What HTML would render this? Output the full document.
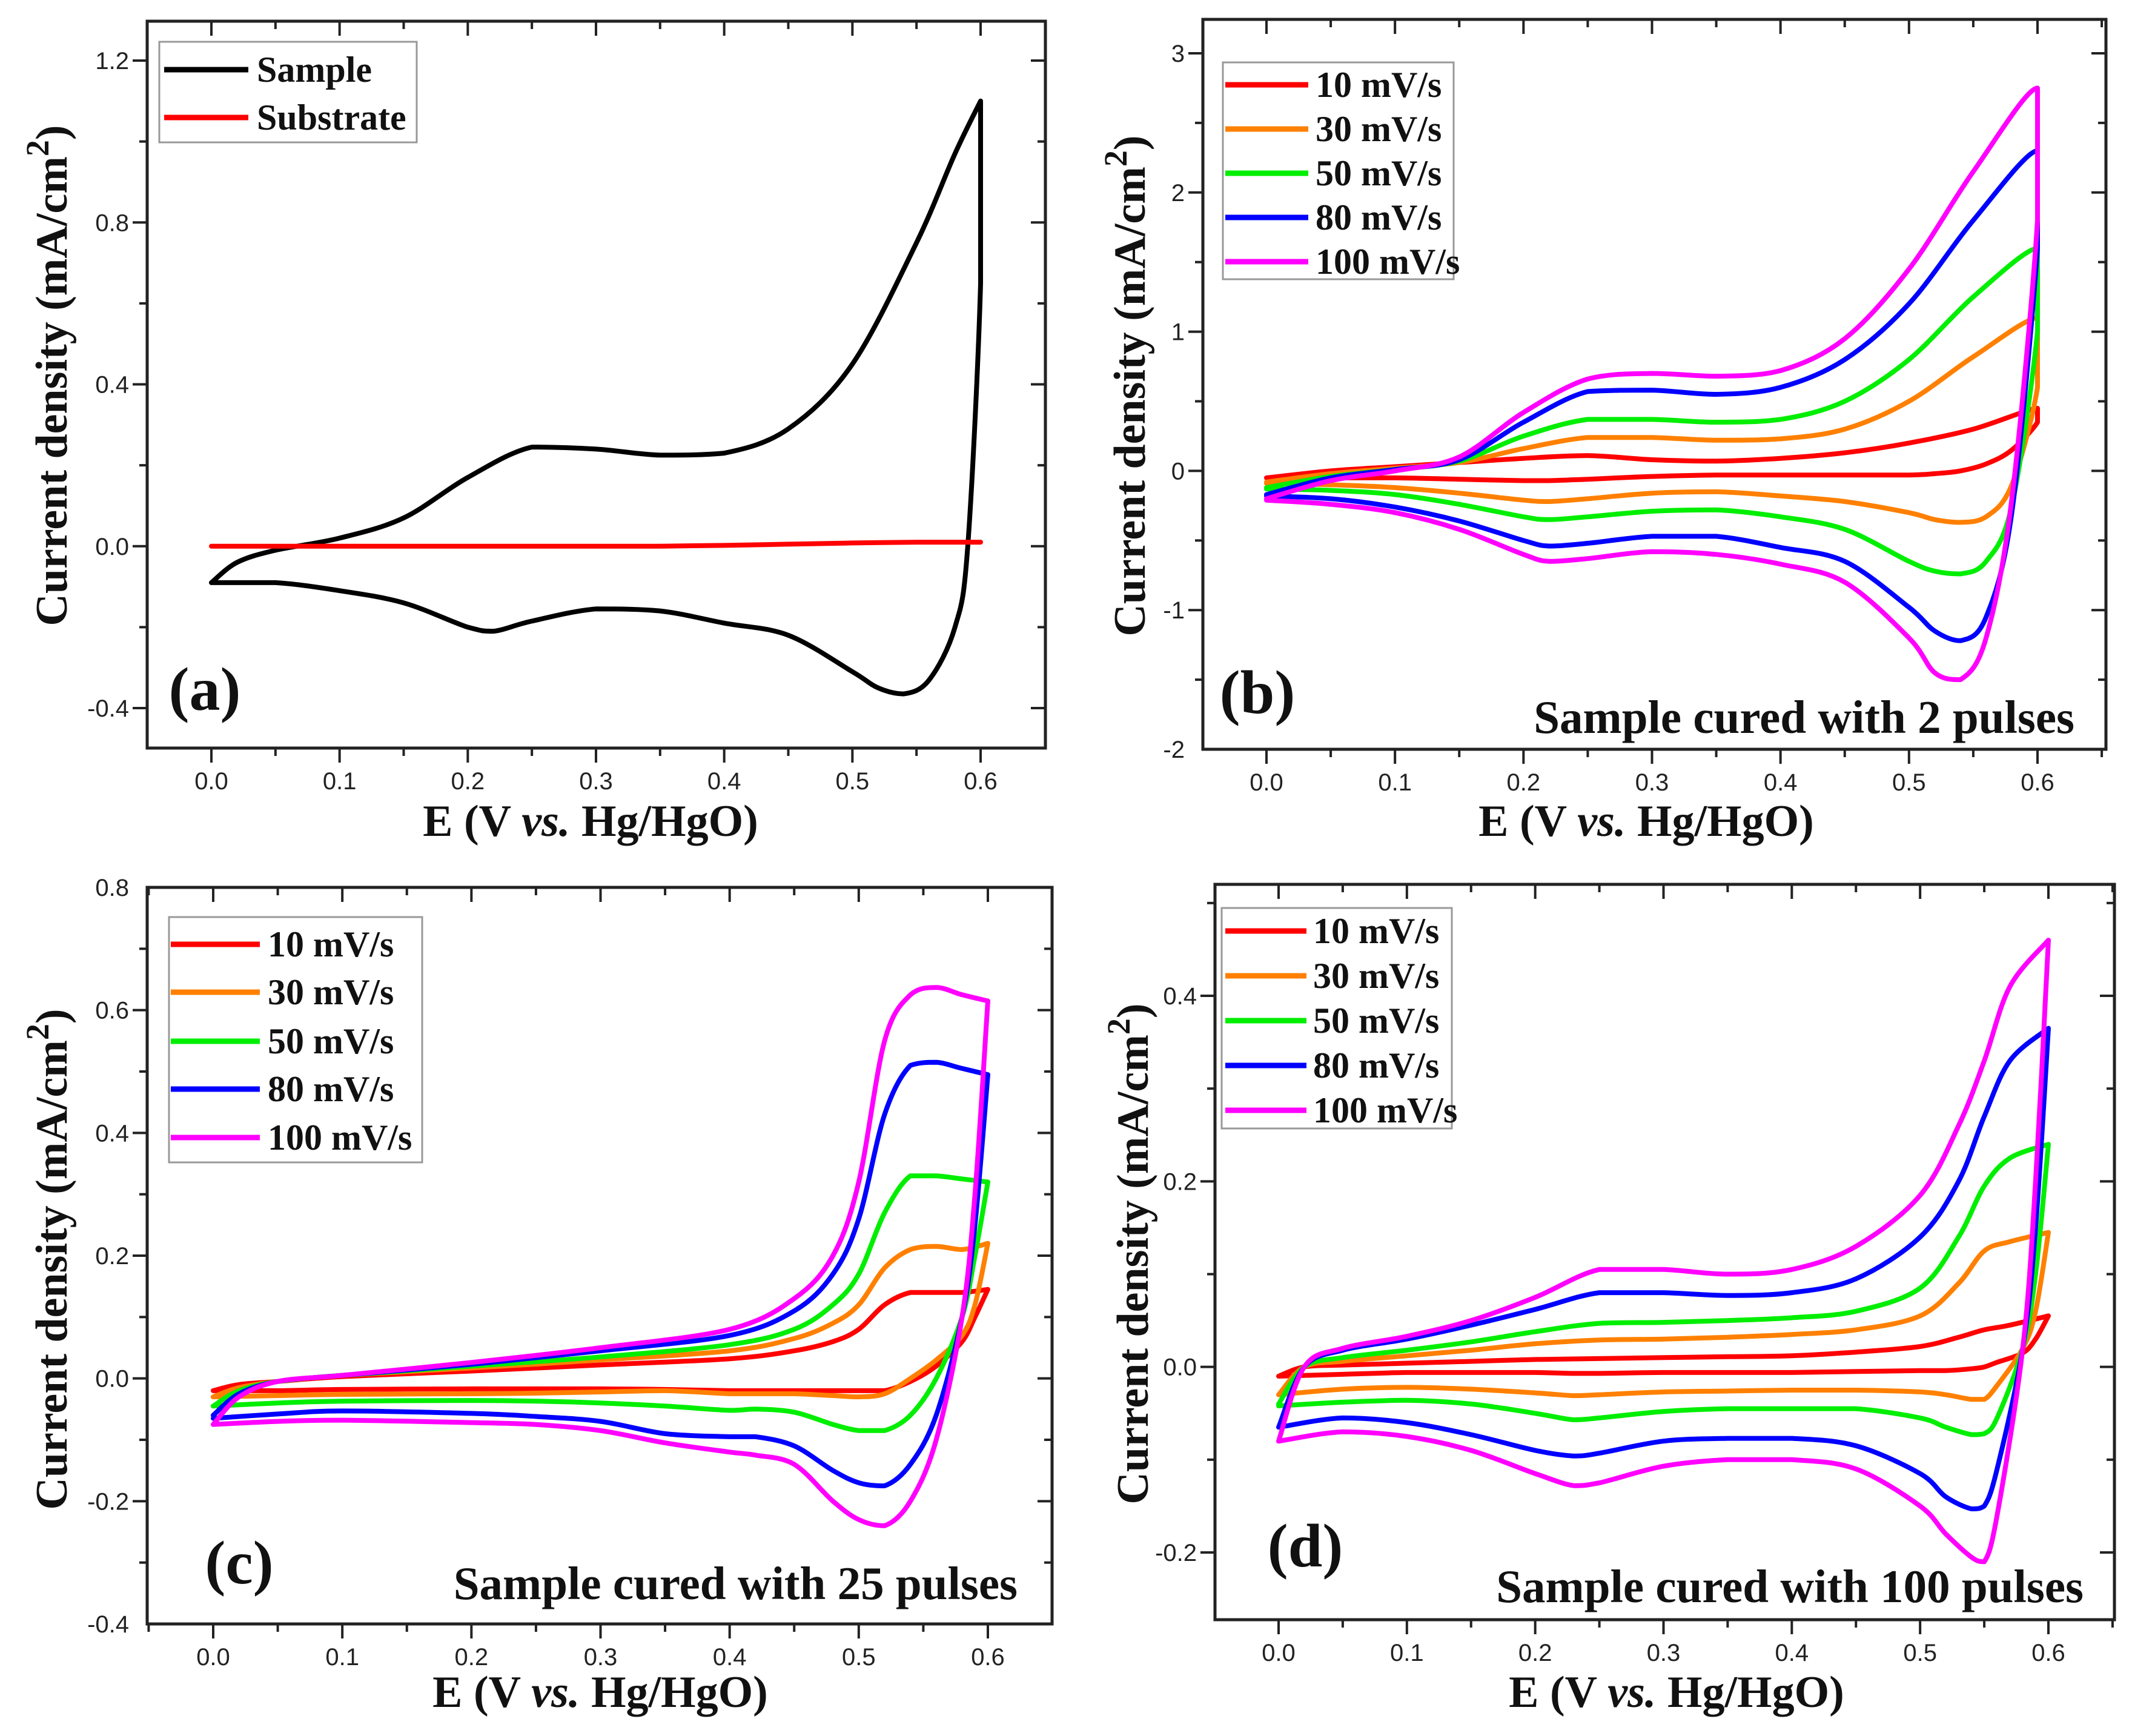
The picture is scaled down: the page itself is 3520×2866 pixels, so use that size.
<!DOCTYPE html>
<html><head><meta charset="utf-8"><style>
html,body{margin:0;padding:0;background:#fff}
svg{display:block}
.tk{font-family:"Liberation Sans",sans-serif;font-size:40px;fill:#222}
.ti{font-family:"Liberation Serif",serif;font-weight:bold;font-size:74px;fill:#111}
.lg{font-family:"Liberation Serif",serif;font-weight:bold;font-size:60px;fill:#111}
.pl{font-family:"Liberation Serif",serif;font-weight:bold;font-size:102px;fill:#111}
.an{font-family:"Liberation Serif",serif;font-weight:bold;font-size:77px;fill:#111}
</style></head><body>
<svg id="fig" xmlns="http://www.w3.org/2000/svg" width="3520" height="2866" viewBox="0 0 3520 2866"></svg>
<script>
// ---------- DATA ----------
const seriesNames = ["10 mV/s","30 mV/s","50 mV/s","80 mV/s","100 mV/s"];
const seriesColors = ["#ff0000","#ff8000","#00ee00","#0000ff","#ff00ff"];

// Panel a
const aFwdX = [0,0.02,0.05,0.1,0.15,0.2,0.25,0.3,0.35,0.4,0.45,0.5,0.55,0.58,0.6];
const aRevX = [0.6,0.6,0.59,0.58,0.56,0.54,0.52,0.5,0.45,0.4,0.35,0.3,0.25,0.22,0.2,0.15,0.1,0.05,0.0];
const aSampleFwd = [-0.09,-0.04,-0.01,0.02,0.07,0.17,0.245,0.24,0.225,0.23,0.29,0.45,0.75,0.97,1.1];
const aSampleRev = [1.1,0.65,0.0,-0.2,-0.33,-0.365,-0.35,-0.31,-0.22,-0.19,-0.16,-0.155,-0.185,-0.21,-0.2,-0.14,-0.11,-0.09,-0.09];
const aSubstrate = [0,0,0,0,0,0,0,0,0,0.002,0.005,0.008,0.01,0.01,0.01];
const aYTicks = ["-0.4","0.0","0.4","0.8","1.2"];

// Panel b
const bFwdX = [0,0.05,0.1,0.15,0.2,0.25,0.3,0.35,0.4,0.45,0.5,0.55,0.6];
const bRevX = [0.6,0.58,0.56,0.54,0.52,0.5,0.45,0.4,0.35,0.3,0.25,0.22,0.2,0.15,0.1,0.05,0];
const b10F = [-0.05,0.0,0.03,0.06,0.09,0.11,0.08,0.07,0.09,0.13,0.2,0.3,0.45];
const b10R = [0.35,0.15,0.05,0.0,-0.02,-0.03,-0.03,-0.03,-0.03,-0.04,-0.06,-0.07,-0.07,-0.06,-0.05,-0.05,-0.05];
const b30F = [-0.08,-0.02,0.02,0.06,0.16,0.24,0.24,0.22,0.23,0.3,0.5,0.82,1.1];
const b30R = [0.6,-0.1,-0.33,-0.37,-0.35,-0.3,-0.22,-0.18,-0.15,-0.16,-0.2,-0.22,-0.21,-0.16,-0.12,-0.1,-0.09];
const b50F = [-0.12,-0.04,0.01,0.07,0.25,0.37,0.37,0.35,0.37,0.5,0.8,1.25,1.6];
const b50R = [1.0,-0.25,-0.65,-0.74,-0.72,-0.65,-0.42,-0.33,-0.28,-0.29,-0.33,-0.35,-0.33,-0.24,-0.17,-0.14,-0.13];
const b80F = [-0.17,-0.05,0.01,0.08,0.35,0.57,0.58,0.55,0.6,0.8,1.2,1.8,2.3];
const b80R = [1.6,-0.3,-1.05,-1.22,-1.15,-0.98,-0.65,-0.55,-0.47,-0.47,-0.52,-0.54,-0.5,-0.36,-0.26,-0.2,-0.18];
const b100F = [-0.2,-0.07,0.0,0.1,0.42,0.66,0.7,0.68,0.72,0.95,1.45,2.15,2.75];
const b100R = [1.8,-0.2,-1.2,-1.5,-1.45,-1.2,-0.8,-0.67,-0.6,-0.58,-0.63,-0.65,-0.6,-0.42,-0.3,-0.24,-0.21];
const bYTicks = ["-2","-1","0","1","2","3"];

// Panel c
const cFwdX = [0,0.02,0.05,0.1,0.2,0.3,0.4,0.45,0.48,0.5,0.52,0.54,0.56,0.58,0.6];
const cRevX = [0.6,0.59,0.58,0.56,0.54,0.52,0.5,0.48,0.45,0.42,0.4,0.35,0.3,0.25,0.2,0.1,0.05,0];
const c10F = [-0.02,-0.01,-0.005,0.003,0.012,0.022,0.032,0.045,0.06,0.08,0.12,0.14,0.14,0.14,0.145];
const c10R = [0.145,0.1,0.06,0.02,-0.005,-0.02,-0.02,-0.02,-0.02,-0.02,-0.02,-0.018,-0.017,-0.017,-0.017,-0.018,-0.02,-0.02];
const c30F = [-0.03,-0.015,-0.005,0.005,0.017,0.03,0.045,0.065,0.09,0.12,0.18,0.21,0.215,0.21,0.22];
const c30R = [0.22,0.12,0.07,0.03,0.0,-0.025,-0.03,-0.028,-0.025,-0.025,-0.025,-0.02,-0.022,-0.024,-0.025,-0.026,-0.028,-0.03];
const c50F = [-0.045,-0.02,-0.005,0.005,0.02,0.035,0.055,0.08,0.12,0.17,0.27,0.33,0.33,0.325,0.32];
const c50R = [0.32,0.2,0.1,0.0,-0.06,-0.085,-0.085,-0.075,-0.055,-0.05,-0.052,-0.045,-0.04,-0.037,-0.036,-0.037,-0.04,-0.045];
const c80F = [-0.06,-0.025,-0.005,0.005,0.023,0.045,0.07,0.11,0.17,0.26,0.43,0.51,0.515,0.505,0.495];
const c80R = [0.495,0.25,0.1,-0.06,-0.14,-0.175,-0.17,-0.15,-0.11,-0.095,-0.095,-0.09,-0.07,-0.062,-0.057,-0.053,-0.058,-0.065];
const c100F = [-0.075,-0.03,-0.005,0.005,0.026,0.05,0.08,0.13,0.2,0.32,0.55,0.625,0.637,0.625,0.615];
const c100R = [0.615,0.3,0.1,-0.1,-0.2,-0.24,-0.23,-0.2,-0.14,-0.125,-0.12,-0.105,-0.085,-0.075,-0.072,-0.068,-0.07,-0.075];
const cYTicks = ["-0.4","-0.2","0.0","0.2","0.4","0.6","0.8"];

// Panel d
const dFwdX = [0,0.02,0.05,0.1,0.15,0.2,0.25,0.3,0.35,0.4,0.45,0.5,0.53,0.55,0.57,0.6];
const dRevX = [0.6,0.59,0.58,0.56,0.55,0.54,0.52,0.5,0.45,0.4,0.35,0.3,0.25,0.23,0.2,0.15,0.1,0.05,0];
const d10F = [-0.01,0.0,0.002,0.004,0.006,0.008,0.009,0.01,0.011,0.012,0.016,0.022,0.032,0.04,0.045,0.055];
const d10R = [0.055,0.03,0.015,0.005,0.0,-0.002,-0.004,-0.004,-0.005,-0.006,-0.006,-0.006,-0.007,-0.007,-0.006,-0.006,-0.006,-0.008,-0.01];
const d30F = [-0.03,0.0,0.006,0.012,0.018,0.025,0.029,0.03,0.032,0.035,0.04,0.055,0.09,0.125,0.135,0.145];
const d30R = [0.145,0.06,0.02,-0.02,-0.035,-0.035,-0.03,-0.027,-0.025,-0.025,-0.026,-0.027,-0.03,-0.031,-0.028,-0.024,-0.022,-0.024,-0.03];
const d50F = [-0.04,0.0,0.01,0.018,0.027,0.038,0.047,0.048,0.05,0.053,0.06,0.085,0.14,0.195,0.225,0.24];
const d50R = [0.24,0.1,0.02,-0.055,-0.072,-0.073,-0.065,-0.055,-0.045,-0.045,-0.045,-0.048,-0.055,-0.057,-0.05,-0.04,-0.036,-0.038,-0.042];
const d80F = [-0.065,0.0,0.018,0.03,0.045,0.062,0.08,0.08,0.077,0.08,0.095,0.14,0.2,0.27,0.33,0.365];
const d80R = [0.365,0.15,0.02,-0.11,-0.15,-0.153,-0.14,-0.115,-0.085,-0.077,-0.077,-0.08,-0.093,-0.096,-0.09,-0.073,-0.06,-0.055,-0.065];
const d100F = [-0.08,0.0,0.02,0.033,0.05,0.075,0.105,0.105,0.1,0.105,0.13,0.185,0.26,0.33,0.41,0.46];
const d100R = [0.46,0.2,0.02,-0.16,-0.21,-0.205,-0.18,-0.15,-0.11,-0.1,-0.1,-0.107,-0.125,-0.128,-0.115,-0.09,-0.075,-0.07,-0.08];
const dYTicks = ["-0.2","0.0","0.2","0.4"];

const xTicks = ["0.0","0.1","0.2","0.3","0.4","0.5","0.6"];

// ---------- DRAWING ----------
const NS = "http://www.w3.org/2000/svg";
const fig = document.getElementById("fig");
function mk(tag, parent, attrs){ const e=document.createElementNS(NS,tag); for(const k in attrs) e.setAttribute(k,attrs[k]); parent.appendChild(e); return e; }
function clamp(v,a,b){ const lo=Math.min(a,b), hi=Math.max(a,b); return Math.max(lo,Math.min(hi,v)); }

function smoothPath(pts){
  let d = "M"+pts[0][0].toFixed(1)+","+pts[0][1].toFixed(1);
  for(let i=0;i<pts.length-1;i++){
    const p0=pts[Math.max(0,i-1)], p1=pts[i], p2=pts[i+1], p3=pts[Math.min(pts.length-1,i+2)];
    let c1=[p1[0]+(p2[0]-p0[0])/6, p1[1]+(p2[1]-p0[1])/6];
    let c2=[p2[0]-(p3[0]-p1[0])/6, p2[1]-(p3[1]-p1[1])/6];
    c1=[clamp(c1[0],p1[0],p2[0]), clamp(c1[1],p1[1],p2[1])];
    c2=[clamp(c2[0],p1[0],p2[0]), clamp(c2[1],p1[1],p2[1])];
    d+=" C"+c1[0].toFixed(1)+","+c1[1].toFixed(1)+" "+c2[0].toFixed(1)+","+c2[1].toFixed(1)+" "+p2[0].toFixed(1)+","+p2[1].toFixed(1);
  }
  return d;
}

function panel(cfg){
  const g = mk("g", fig, {});
  
  
  const sx = v => cfg.x0 + (cfg.x6 - cfg.x0) * v / 0.6;
  const sy = v => cfg.pyA + (cfg.pyB - cfg.pyA) * (v - cfg.vA) / (cfg.vB - cfg.vA);
  const L=cfg.L,R=cfg.R,T=cfg.T,B=cfg.B;
  const cid = "clip-"+cfg.name;
  const cp = mk("clipPath", g, {id:cid}); mk("rect", cp, {x:L,y:T,width:R-L,height:B-T});
  const plot = mk("g", g, {"clip-path":"url(#"+cid+")"});
  
  
  cfg.series.forEach(s=>{
    const pts = s.fx.map((x,i)=>[sx(x), sy(s.fy[i])]);
    if(s.rx){ s.rx.forEach((x,i)=>pts.push([sx(x), sy(s.ry[i])])); }
    const p = mk("path", plot, {d:smoothPath(pts), fill:"none", stroke:s.color, "stroke-width":8, "stroke-linejoin":"round","stroke-linecap":"round"});
    
    
  });
  const fr = mk("rect", g, {x:L,y:T,width:R-L,height:B-T,fill:"none",stroke:"#222","stroke-width":5});
  
  
  for(let k=-1;k<=13;k++){
    const v=k*0.05, x=sx(v); if(x<L+2||x>R-2) continue;
    const major = k%2===0, len = major?24:13;
    mk("line", g, {x1:x,y1:B,x2:x,y2:B+len,stroke:"#222","stroke-width":4});
    mk("line", g, {x1:x,y1:T,x2:x,y2:T+len,stroke:"#222","stroke-width":4});
  }
  xTicks.forEach(t=>{
    const tx = mk("text", g, {x:sx(parseFloat(t)), y:B+68, "text-anchor":"middle", class:"tk"});
    tx.textContent=t;
    
    
  });
  const step = cfg.yMinor;
  const start = Math.ceil((cfg.yMin)/step - 1e-6);
  for(let k=start; k*step<=cfg.yMax+1e-9; k++){
    const v=k*step, y=sy(v); if(y<T+2||y>B-2) continue;
    const major = Math.abs(v/cfg.yMajor - Math.round(v/cfg.yMajor))<1e-6, len = major?24:13;
    mk("line", g, {x1:L-len,y1:y,x2:L,y2:y,stroke:"#222","stroke-width":4});
    mk("line", g, {x1:R-len,y1:y,x2:R,y2:y,stroke:"#222","stroke-width":4});
  }
  cfg.yTicks.forEach(t=>{
    const tx = mk("text", g, {x:L-30, y:sy(parseFloat(t))+14, "text-anchor":"end", class:"tk"});
    tx.textContent=t;
    
    
  });
  const xt = mk("text", g, {x:cfg.xtx, y:cfg.xty, "text-anchor":"middle", class:"ti"});
  xt.innerHTML = 'E (V <tspan font-style="italic">vs.</tspan> Hg/HgO)';
  
  
  const yt = mk("text", g, {x:0, y:0, "text-anchor":"middle", class:"ti", "font-size":86, transform:"translate("+cfg.ytx+","+cfg.yty+") rotate(-90)"});
  yt.innerHTML = 'Current density (mA/cm<tspan baseline-shift="super" font-size="54">2</tspan>)';
  
  
  const pl = mk("text", g, {x:cfg.plx, y:cfg.ply, "text-anchor":"middle", class:"pl"});
  pl.textContent = cfg.label;
  
  
  if(cfg.note){
    const an = mk("text", g, {x:cfg.notex, y:cfg.notey, "text-anchor":"end", class:"an"});
    an.textContent = cfg.note;
    
    
  }
  const lg = cfg.legend;
  const lgG = mk("g", g, {});
  
  
  mk("rect", lgG, {x:lg.x1,y:lg.y1,width:lg.x2-lg.x1,height:lg.y2-lg.y1,fill:"#fff",stroke:"#999","stroke-width":3});
  lg.items.forEach((it,i)=>{
    const e = mk("g", lgG, {});
    
    
    const y = lg.rows[i];
    mk("line", e, {x1:lg.lx1,y1:y,x2:lg.lx2,y2:y,stroke:it.color,"stroke-width":9});
    const t = mk("text", e, {x:lg.tx, y:y+20, class:"lg"}); t.textContent = it.label;
  });
}

function mkSeries(names, colors, fx, rx, F, Rv){
  return F.map((f,i)=>({label:names[i], color:colors[i], fx:fx, fy:f, rx:rx, ry:Rv[i]}));
}

panel({name:"panel-a", L:243,R:1726,T:35,B:1235, x0:349,x6:1619, vA:1.2,pyA:100,vB:-0.4,pyB:1169,
  yMin:-0.5,yMax:1.3,yMinor:0.2,yMajor:0.4,yTicks:aYTicks,
  xtx:975,xty:1380, ytx:110,yty:620, label:"(a)",plx:338,ply:1172,
  series:[{label:"Sample",color:"#000",fx:aFwdX,fy:aSampleFwd,rx:aRevX,ry:aSampleRev},
          {label:"Substrate",color:"#ff0000",fx:aFwdX,fy:aSubstrate}],
  legend:{x1:263,y1:69,x2:688,y2:235,lx1:271,lx2:410,tx:424,rows:[115,194],
    items:[{label:"Sample",color:"#000"},{label:"Substrate",color:"#ff0000"}]}
});

panel({name:"panel-b", L:1986,R:3477,T:32,B:1237, x0:2091,x6:3364, vA:3,pyA:88,vB:-2,pyB:1237,
  yMin:-2,yMax:3.25,yMinor:0.5,yMajor:1,yTicks:bYTicks,
  xtx:2718,xty:1380, ytx:1890,yty:637, label:"(b)",plx:2076,ply:1177,
  note:"Sample cured with 2 pulses",notex:3425,notey:1210,
  series:mkSeries(seriesNames,seriesColors,bFwdX,bRevX,[b10F,b30F,b50F,b80F,b100F],[b10R,b30R,b50R,b80R,b100R]),
  legend:{x1:2019,y1:103,x2:2400,y2:461,lx1:2023,lx2:2160,tx:2172,rows:[140,213,286,359,432],
    items:seriesNames.map((n,i)=>({label:n,color:seriesColors[i]}))}
});

panel({name:"panel-c", L:243,R:1737,T:1465,B:2681, x0:352,x6:1631, vA:0.8,pyA:1465,vB:-0.4,pyB:2681,
  yMin:-0.4,yMax:0.8,yMinor:0.1,yMajor:0.2,yTicks:cYTicks,
  xtx:991,xty:2818, ytx:110,yty:2079, label:"(c)",plx:395,ply:2614,
  note:"Sample cured with 25 pulses",notex:1680,notey:2640,
  series:mkSeries(seriesNames,seriesColors,cFwdX,cRevX,[c10F,c30F,c50F,c80F,c100F],[c10R,c30R,c50R,c80R,c100R]),
  legend:{x1:279,y1:1514,x2:697,y2:1919,lx1:282,lx2:429,tx:442,rows:[1559,1638,1719,1798,1878],
    items:seriesNames.map((n,i)=>({label:n,color:seriesColors[i]}))}
});

panel({name:"panel-d", L:2006,R:3491,T:1460,B:2674, x0:2111,x6:3382, vA:0.4,pyA:1644,vB:-0.2,pyB:2563,
  yMin:-0.28,yMax:0.52,yMinor:0.1,yMajor:0.2,yTicks:dYTicks,
  xtx:2768,xty:2818, ytx:1895,yty:2070, label:"(d)",plx:2155,ply:2586,
  note:"Sample cured with 100 pulses",notex:3440,notey:2645,
  series:mkSeries(seriesNames,seriesColors,dFwdX,dRevX,[d10F,d30F,d50F,d80F,d100F],[d10R,d30R,d50R,d80R,d100R]),
  legend:{x1:2017,y1:1499,x2:2397,y2:1863,lx1:2023,lx2:2157,tx:2168,rows:[1537,1611,1685,1759,1833],
    items:seriesNames.map((n,i)=>({label:n,color:seriesColors[i]}))}
});
</script>
</body></html>
